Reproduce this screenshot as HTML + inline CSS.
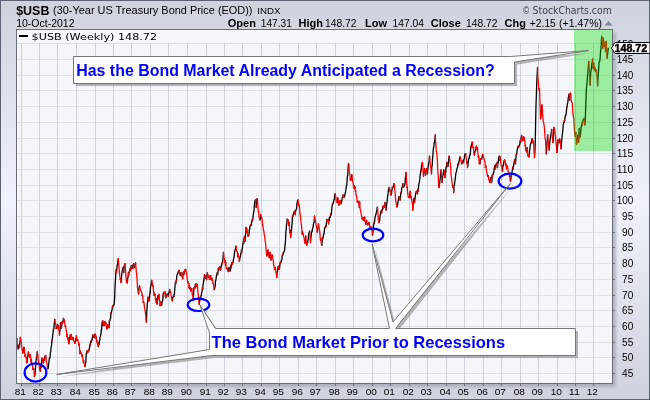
<!DOCTYPE html><html><head><meta charset="utf-8"><style>
html,body{margin:0;padding:0;}body{width:650px;height:400px;overflow:hidden;background:#d9dce4;}
svg{display:block;}
text{font-family:"Liberation Sans",Arial,sans-serif;}
</style></head><body>
<svg width="650" height="400" viewBox="0 0 650 400">
<defs>
<linearGradient id="bgv" x1="0" y1="0" x2="0" y2="1"><stop offset="0" stop-color="#cdd2dc"/><stop offset="0.5" stop-color="#f0f3fb"/><stop offset="1" stop-color="#cdd2dc"/></linearGradient>
<filter id="shadow" x="-5%" y="-5%" width="110%" height="110%"><feGaussianBlur stdDeviation="1.5"/></filter><filter id="sh2" x="-5%" y="-5%" width="110%" height="110%"><feGaussianBlur stdDeviation="0.5"/></filter>
<clipPath id="plot"><rect x="17" y="30" width="595" height="353"/></clipPath>
</defs>
<rect x="0" y="0" width="650" height="400" fill="url(#bgv)"/>
<rect x="0.5" y="0.5" width="649" height="399" fill="none" stroke="#5d6272" stroke-width="1"/>
<rect x="19" y="32" width="597" height="355" fill="#9da2ae" opacity="0.7" filter="url(#shadow)"/>
<rect x="16.5" y="29.5" width="596" height="354" fill="#f5f6fa"/>
<path d="M16 373.5H612M16 357.5H612M16 342.5H612M16 326.5H612M16 310.5H612M16 295.5H612M16 279.5H612M16 263.5H612M16 247.5H612M16 232.5H612M16 216.5H612M16 200.5H612M16 185.5H612M16 169.5H612M16 153.5H612M16 138.5H612M16 122.5H612M16 106.5H612M16 90.5H612M16 75.5H612M16 59.5H612M16 43.5H612" stroke="#dee0e7" stroke-width="1" fill="none"/>
<path d="M21.5 43V383M39.5 43V383M57.5 43V383M76.5 43V383M95.5 43V383M113.5 43V383M131.5 43V383M150.5 43V383M168.5 43V383M187.5 43V383M206.5 43V383M224.5 43V383M242.5 43V383M261.5 43V383M279.5 43V383M298.5 43V383M316.5 43V383M335.5 43V383M353.5 43V383M372.5 43V383M390.5 43V383M409.5 43V383M427.5 43V383M446.5 43V383M464.5 43V383M483.5 43V383M501.5 43V383M520.5 43V383M538.5 43V383M557.5 43V383M575.5 43V383M593.5 43V383" stroke="#cdd0d9" stroke-width="1" fill="none"/>
<g clip-path="url(#plot)" stroke-width="1.3" fill="none" stroke-linecap="round" stroke-linejoin="round">
<path d="M16.50 340.00L16.75 338.89M16.75 338.89L17.00 338.75M17.88 348.85L18.25 348.75M18.25 348.75L18.50 347.02M18.50 347.02L18.75 345.00M19.50 347.50L19.80 343.29M19.80 343.29L20.10 341.15M20.10 341.15L20.40 337.50M22.25 350.00L22.57 349.98M22.90 353.00L23.20 351.37M23.20 351.37L23.50 348.75M23.50 348.75L23.80 347.60M23.80 347.60L24.10 347.50M25.07 356.33L25.40 355.00M26.67 362.67L27.00 362.50M27.00 362.50L27.30 360.54M27.30 360.54L27.60 355.06M27.90 356.25L28.20 352.75M28.20 352.75L28.50 351.90M29.43 356.57L29.75 356.25M30.08 357.02L30.42 354.82M31.03 361.98L31.32 359.32M32.92 369.35L33.25 368.75M34.35 376.25L34.60 376.00M34.60 376.00L34.87 375.15M34.87 375.15L35.13 372.98M35.13 372.98L35.40 368.75M35.40 368.75L35.70 365.26M35.70 365.26L36.00 361.25M36.00 361.25L36.30 359.45M36.30 359.45L36.60 356.25M36.92 356.93L37.25 351.90M39.80 369.88L40.10 368.88M40.40 371.25L40.70 365.52M41.00 367.50L41.30 365.40M41.30 365.40L41.60 362.50M41.60 362.50L41.92 358.10M42.58 360.69L42.90 360.00M43.20 362.78L43.50 362.50M43.50 362.50L43.80 360.19M43.80 360.19L44.10 358.75M44.40 360.29L44.70 358.72M44.70 358.72L45.00 356.25M45.38 358.08L45.75 355.60M47.90 368.75L48.20 368.20M48.20 368.20L48.50 365.00M48.50 365.00L48.80 363.33M48.80 363.33L49.10 360.00M49.10 360.00L49.42 358.16M49.42 358.16L49.75 358.10M49.75 358.10L50.08 357.40M50.08 357.40L50.40 352.50M50.40 352.50L50.70 351.95M50.70 351.95L51.00 347.50M51.00 347.50L51.30 346.31M51.30 346.31L51.60 345.60M51.60 345.60L51.92 339.96M52.25 340.00L52.58 336.72M52.58 336.72L52.90 333.75M52.90 333.75L53.20 331.17M53.20 331.17L53.50 328.75M53.80 329.02L54.10 325.60M54.10 325.60L54.50 321.50M54.50 321.50L54.85 319.32M56.15 328.57L56.50 328.00M56.50 328.00L56.85 326.37M56.85 326.37L57.20 325.50M57.20 325.50L57.47 324.75M57.73 327.82L58.00 326.00M58.00 326.00L58.27 325.54M59.50 335.00L59.75 331.03M59.75 331.03L60.00 331.00M60.00 331.00L60.25 325.50M60.25 325.50L60.50 323.00M60.50 323.00L60.85 322.60M61.20 328.00L61.50 327.76M61.50 327.76L61.80 325.00M61.80 325.00L62.20 322.00M62.50 323.28L62.80 323.00M62.80 323.00L63.15 320.24M63.15 320.24L63.50 318.50M63.85 320.74L64.20 320.00M65.27 326.52L65.53 326.05M66.85 336.73L67.20 335.00M67.73 339.54L68.00 339.00M68.00 339.00L68.25 338.15M68.85 343.59L69.20 340.00M69.20 340.00L69.47 338.89M69.47 338.89L69.73 337.04M69.73 337.04L70.00 337.00M70.00 337.00L70.27 335.11M70.53 338.88L70.80 335.00M70.80 335.00L71.15 334.51M72.20 339.50L72.47 339.26M72.47 339.26L72.73 339.13M72.73 339.13L73.00 338.00M73.00 338.00L73.27 337.62M74.83 343.39L75.17 341.94M75.17 341.94L75.50 341.50M75.50 341.50L75.85 338.41M76.20 340.00L76.47 335.59M77.53 340.16L77.80 340.00M78.85 345.09L79.20 344.00M79.88 353.67L80.16 352.65M80.16 352.65L80.44 351.22M82.12 356.23L82.40 355.10M83.30 362.10L83.60 360.43M85.00 366.50L85.30 363.82M85.30 363.82L85.60 362.76M85.60 362.76L85.90 361.25M85.90 361.25L86.25 354.18M86.25 354.18L86.60 352.50M86.60 352.50L86.88 351.06M87.16 352.51L87.44 352.23M87.72 352.53L88.00 351.60M88.00 351.60L88.28 350.09M88.56 351.32L88.84 350.17M88.84 350.17L89.12 349.94M89.12 349.94L89.40 348.10M89.40 348.10L89.70 346.35M89.70 346.35L90.00 344.27M90.30 345.12L90.60 342.90M90.60 342.90L90.92 341.24M91.25 342.11L91.58 339.62M91.90 340.25L92.23 338.35M92.23 338.35L92.57 337.28M92.57 337.28L92.90 335.00M93.20 336.79L93.50 336.56M93.50 336.56L93.80 335.84M94.10 337.60L94.40 336.44M94.40 336.44L94.70 334.75M94.70 334.75L95.00 334.10M95.31 336.32L95.62 335.19M95.94 338.07L96.25 336.80M96.60 341.62L96.95 340.80M97.60 344.00L97.90 342.65M98.20 346.48L98.50 345.20M98.50 345.20L98.83 343.62M99.17 344.45L99.50 341.00M99.50 341.00L99.77 340.46M99.77 340.46L100.03 337.33M100.30 337.50L100.62 334.86M100.62 334.86L100.93 334.65M100.93 334.65L101.25 330.00M101.25 330.00L101.56 329.96M101.56 329.96L101.88 325.65M101.88 325.65L102.19 322.19M102.19 322.19L102.50 321.25M102.50 321.25L102.81 320.80M103.12 325.16L103.44 322.95M104.06 325.76L104.38 322.51M104.38 322.51L104.69 321.70M105.00 325.00L105.38 324.03M105.38 324.03L105.75 322.50M107.00 328.75L107.29 326.98M107.29 326.98L107.58 326.03M107.58 326.03L107.88 324.79M108.46 326.16L108.75 325.00M109.06 327.70L109.38 320.64M109.69 320.74L110.00 320.00M110.00 320.00L110.31 318.50M110.31 318.50L110.62 318.05M110.62 318.05L110.94 312.58M111.25 313.75L111.56 311.13M111.56 311.13L111.88 310.75M111.88 310.75L112.19 308.72M112.19 308.72L112.50 306.25M112.81 306.92L113.12 305.30M113.12 305.30L113.44 305.07M113.44 305.07L113.75 305.00M113.75 305.00L114.12 304.77M114.12 304.77L114.50 300.00M114.50 300.00L114.75 295.97M114.75 295.97L115.00 287.50M115.00 287.50L115.38 281.58M115.38 281.58L115.75 275.00M115.75 275.00L116.08 270.00M116.42 272.39L116.75 270.00M116.75 270.00L117.12 265.42M117.12 265.42L117.50 265.00M117.50 265.00L117.88 260.91M117.88 260.91L118.25 258.75M120.33 279.34L120.67 278.59M121.00 282.50L121.33 278.83M121.33 278.83L121.67 275.36M121.67 275.36L122.00 272.50M122.00 272.50L122.33 270.12M122.33 270.12L122.67 269.17M122.67 269.17L123.00 267.50M123.75 272.50L124.06 268.26M124.06 268.26L124.38 265.09M124.69 265.62L125.00 263.75M126.75 282.50L127.06 280.25M127.38 282.79L127.69 277.28M128.00 277.50L128.33 272.98M128.67 275.57L129.00 272.50M129.00 272.50L129.33 271.37M129.67 271.73L130.00 268.75M130.28 270.27L130.55 267.68M130.82 268.96L131.10 265.75M131.10 265.75L131.39 265.61M131.68 268.01L131.96 267.69M132.54 268.05L132.82 266.53M132.82 266.53L133.11 264.55M133.40 265.30L133.68 263.61M133.95 267.92L134.22 266.92M134.22 266.92L134.50 266.90M134.50 266.90L134.78 266.12M134.78 266.12L135.05 264.69M135.05 264.69L135.32 263.97M135.32 263.97L135.60 263.00M138.60 293.90L138.90 289.84M138.90 289.84L139.20 287.30M139.20 287.30L139.50 286.00M142.11 295.38L142.40 295.00M143.22 302.47L143.50 301.75M146.40 322.00L146.75 311.69M146.75 311.69L147.10 308.50M147.10 308.50L147.40 302.56M147.40 302.56L147.70 301.38M147.70 301.38L148.00 297.25M148.82 301.02L149.10 300.60M149.10 300.60L149.45 298.24M149.45 298.24L149.80 292.75M150.10 293.28L150.40 288.89M150.40 288.89L150.70 286.00M150.70 286.00L151.00 285.19M151.00 285.19L151.30 282.51M151.30 282.51L151.60 280.40M152.20 284.19L152.50 283.75M152.78 286.14L153.05 285.71M154.18 295.24L154.46 293.24M154.75 295.00L155.04 294.31M155.61 300.36L155.90 298.40M156.18 302.70L156.45 301.50M156.45 301.50L156.72 300.52M157.00 304.00L157.28 303.13M157.28 303.13L157.55 300.18M157.55 300.18L157.82 295.95M158.68 298.58L158.96 294.50M160.11 305.60L160.40 301.75M160.68 304.03L160.95 302.16M161.50 305.10L161.78 304.59M161.78 304.59L162.05 302.06M162.05 302.06L162.32 301.40M162.32 301.40L162.60 300.60M162.60 300.60L162.89 298.02M162.89 298.02L163.18 293.82M163.46 297.08L163.75 293.90M163.75 293.90L164.04 292.23M164.90 292.75L165.18 292.06M165.72 297.62L166.00 297.25M166.00 297.25L166.28 295.49M166.55 296.01L166.82 294.61M166.82 294.61L167.10 293.90M168.30 296.10L168.58 293.51M168.58 293.51L168.85 292.92M168.85 292.92L169.12 292.38M169.12 292.38L169.40 290.50M169.40 290.50L169.70 289.32M170.00 292.52L170.30 291.50M171.58 298.63L171.85 298.27M172.40 300.80L172.70 297.31M172.70 297.31L173.00 297.23M173.00 297.23L173.30 296.98M173.30 296.98L173.60 295.20M174.15 296.11L174.42 293.50M174.42 293.50L174.70 290.00M174.70 290.00L175.00 286.51M175.00 286.51L175.30 282.99M175.60 284.00L175.89 283.16M175.89 283.16L176.18 280.36M176.46 280.65L176.75 276.20M176.75 276.20L177.04 274.85M177.04 274.85L177.32 274.17M177.32 274.17L177.61 273.95M177.61 273.95L177.90 272.75M177.90 272.75L178.18 272.01M178.18 272.01L178.45 271.25M178.72 271.50L179.00 270.50M179.55 273.67L179.82 273.35M180.10 275.00L180.39 274.90M180.68 275.62L180.96 272.50M182.68 278.70L182.95 275.17M182.95 275.17L183.22 272.44M183.50 272.75L183.78 271.99M184.05 274.11L184.32 272.93M184.32 272.93L184.60 270.50M184.89 271.49L185.18 269.54M185.46 270.35L185.75 269.40M187.60 281.75L187.90 281.51M188.50 284.00L188.78 283.59M189.05 287.75L189.32 285.61M189.88 288.82L190.15 287.51M190.70 290.75L190.97 290.37M191.25 290.77L191.53 289.05M191.53 289.05L191.80 288.50M193.20 299.80L193.47 295.77M193.47 295.77L193.75 290.47M193.75 290.47L194.03 287.66M194.03 287.66L194.30 287.40M194.90 288.38L195.20 285.20M195.20 285.20L195.47 284.13M195.75 284.59L196.03 284.46M196.03 284.46L196.30 284.00M196.60 286.50L196.90 285.96M196.90 285.96L197.20 284.29M199.25 304.30L199.57 301.14M199.57 301.14L199.88 300.12M199.88 300.12L200.20 297.60M200.50 298.34L200.80 297.17M200.80 297.17L201.10 295.30M201.10 295.30L201.38 295.23M201.38 295.23L201.65 292.39M201.65 292.39L201.92 292.11M201.92 292.11L202.20 289.70M202.20 289.70L202.47 287.45M202.75 289.12L203.03 284.21M203.03 284.21L203.30 284.00M203.30 284.00L203.60 281.07M203.60 281.07L203.90 280.36M203.90 280.36L204.20 277.25M204.20 277.25L204.47 274.74M205.03 276.95L205.30 276.20M205.30 276.20L205.60 276.03M205.90 278.40L206.20 277.39M206.50 279.50L206.80 278.41M206.80 278.41L207.10 274.04M207.10 274.04L207.40 272.75M208.54 277.43L208.82 276.08M208.82 276.08L209.11 276.04M209.40 279.50L209.67 278.49M209.93 278.88L210.20 277.50M210.20 277.50L210.46 276.05M210.46 276.05L210.72 275.61M210.99 278.77L211.25 278.75M211.56 279.87L211.88 278.09M213.12 283.65L213.44 283.47M214.12 289.54L214.50 288.75M214.50 288.75L214.83 287.34M214.83 287.34L215.17 286.53M215.17 286.53L215.50 281.25M215.50 281.25L215.81 280.31M215.81 280.31L216.12 278.04M216.12 278.04L216.44 275.75M216.44 275.75L216.75 275.00M216.75 275.00L217.06 272.89M217.06 272.89L217.38 272.85M217.69 274.61L218.00 272.50M218.00 272.50L218.31 268.57M218.62 268.79L218.94 268.11M218.94 268.11L219.25 267.50M219.56 269.65L219.88 266.82M220.50 270.00L220.83 268.69M220.83 268.69L221.17 266.97M221.17 266.97L221.50 265.00M221.50 265.00L221.83 264.95M221.83 264.95L222.17 262.43M222.50 262.50L222.81 260.53M222.81 260.53L223.12 256.25M223.12 256.25L223.44 252.36M224.83 262.17L225.17 260.55M225.50 265.00L225.81 262.65M226.75 268.75L227.06 268.06M228.33 271.54L228.67 268.67M228.67 268.67L229.00 267.50M230.00 271.25L230.33 270.52M230.33 270.52L230.67 267.44M230.67 267.44L231.00 265.00M231.33 267.68L231.67 262.69M232.33 264.17L232.67 262.34M233.00 262.50L233.33 260.14M233.33 260.14L233.67 258.21M233.67 258.21L234.00 257.50M234.00 257.50L234.33 254.58M234.33 254.58L234.67 251.77M234.67 251.77L235.00 250.00M235.00 250.00L235.33 249.54M235.33 249.54L235.67 247.28M235.67 247.28L236.00 246.25M237.67 256.79L238.00 253.75M239.50 261.25L239.83 258.29M239.83 258.29L240.17 257.30M240.17 257.30L240.50 256.25M240.50 256.25L240.81 253.19M240.81 253.19L241.12 253.18M241.12 253.18L241.44 250.16M241.75 252.50L242.06 249.54M242.06 249.54L242.38 247.79M242.38 247.79L242.69 244.88M242.69 244.88L243.00 243.75M243.00 243.75L243.33 241.33M243.67 243.51L244.00 238.75M244.00 238.75L244.33 237.00M245.00 241.25L245.33 235.43M245.33 235.43L245.67 234.29M245.67 234.29L246.00 227.50M246.33 232.45L246.67 228.34M247.00 231.25L247.33 231.12M248.00 236.25L248.33 234.93M248.67 235.47L249.00 233.75M249.00 233.75L249.33 229.73M249.33 229.73L249.67 229.22M249.67 229.22L250.00 226.25M250.00 226.25L250.33 225.85M250.33 225.85L250.67 224.71M251.33 225.34L251.67 221.05M252.00 221.25L252.33 219.11M252.67 219.89L253.00 217.50M253.00 217.50L253.33 214.52M253.33 214.52L253.67 211.72M253.67 211.72L254.00 211.25M254.00 211.25L254.38 205.22M254.38 205.22L254.75 201.25M254.75 201.25L255.12 200.40M255.12 200.40L255.50 200.00M256.25 207.50L256.62 203.57M256.62 203.57L257.00 198.75M258.33 211.58L258.67 211.51M260.00 220.00L260.33 219.09M260.33 219.09L260.67 214.50M261.33 217.84L261.67 217.59M266.67 255.74L267.00 255.00M267.33 255.63L267.67 253.22M267.67 253.22L268.00 250.00M268.33 253.88L268.67 253.27M269.33 257.62L269.67 253.83M269.67 253.83L270.00 252.50M271.00 260.00L271.33 256.50M271.33 256.50L271.67 256.41M271.67 256.41L272.00 255.00M272.33 256.66L272.67 256.14M274.67 269.57L275.00 268.75M275.00 268.75L275.33 267.76M276.75 277.50L277.12 271.88M277.12 271.88L277.50 271.25M277.50 271.25L277.83 268.97M277.83 268.97L278.17 266.38M278.17 266.38L278.50 266.25M278.83 269.20L279.17 268.26M279.50 268.75L279.83 265.96M279.83 265.96L280.17 262.31M280.83 262.53L281.17 261.59M281.17 261.59L281.50 260.00M281.50 260.00L281.83 259.81M281.83 259.81L282.17 255.85M282.17 255.85L282.50 255.00M282.50 255.00L282.83 254.01M283.17 254.66L283.50 252.50M283.50 252.50L283.83 251.58M283.83 251.58L284.17 251.54M284.17 251.54L284.50 251.25M284.50 251.25L284.77 248.07M284.77 248.07L285.05 245.39M285.05 245.39L285.33 242.93M285.33 242.93L285.60 238.75M285.60 238.75L285.90 231.30M285.90 231.30L286.20 229.41M286.20 229.41L286.50 225.00M286.50 225.00L286.83 223.49M286.83 223.49L287.17 219.05M287.50 220.00L287.83 219.72M288.80 225.44L289.10 222.50M289.70 232.34L290.00 230.10M290.60 237.50L290.93 234.43M290.93 234.43L291.25 230.96M291.25 230.96L291.57 229.34M291.57 229.34L291.90 225.00M291.90 225.00L292.20 222.19M292.20 222.19L292.50 215.61M292.80 216.51L293.10 215.00M293.10 215.00L293.43 213.83M293.43 213.83L293.75 213.67M293.75 213.67L294.07 211.91M294.40 212.50L294.70 211.91M294.70 211.91L295.00 211.03M295.30 214.61L295.60 211.00M295.60 211.00L295.93 210.07M295.93 210.07L296.25 209.19M296.25 209.19L296.57 209.19M296.57 209.19L296.90 203.75M297.20 203.98L297.50 200.49M297.50 200.49L297.80 200.16M297.80 200.16L298.10 200.00M298.75 205.67L299.07 204.78M302.17 234.01L302.45 231.91M305.00 243.00L305.38 240.33M305.38 240.33L305.75 236.25M306.50 245.00L306.83 244.95M306.83 244.95L307.17 242.83M307.50 244.00L307.83 240.04M307.83 240.04L308.17 239.98M308.17 239.98L308.50 236.25M308.50 236.25L308.83 233.15M308.83 233.15L309.17 232.94M309.17 232.94L309.50 231.25M310.50 242.50L310.83 238.25M310.83 238.25L311.17 235.92M311.17 235.92L311.50 231.25M311.83 231.73L312.17 231.56M312.17 231.56L312.50 228.75M312.50 228.75L312.83 228.04M312.83 228.04L313.17 226.10M313.17 226.10L313.50 223.75M313.50 223.75L313.83 222.60M313.83 222.60L314.17 221.86M314.17 221.86L314.50 216.25M317.17 232.02L317.50 231.25M317.50 231.25L317.83 227.91M317.83 227.91L318.17 227.56M318.17 227.56L318.50 223.75M320.50 240.00L320.83 238.66M321.83 245.17L322.17 240.72M322.17 240.72L322.50 237.50M322.83 238.49L323.17 237.79M323.17 237.79L323.50 235.00M323.50 235.00L323.83 233.80M323.83 233.80L324.17 233.49M324.17 233.49L324.50 228.75M324.50 228.75L324.83 227.29M325.17 227.75L325.50 227.50M325.50 227.50L325.83 225.45M326.17 226.29L326.50 222.50M326.50 222.50L326.83 219.32M327.17 221.00L327.50 220.00M327.83 220.24L328.17 219.37M328.50 223.75L328.83 221.55M328.83 221.55L329.17 220.84M329.17 220.84L329.50 217.50M329.50 217.50L329.83 217.46M329.83 217.46L330.17 217.29M330.17 217.29L330.50 215.00M330.50 215.00L330.75 213.94M331.00 215.00L331.33 213.98M331.33 213.98L331.67 209.95M331.67 209.95L332.00 207.50M332.00 207.50L332.33 204.74M332.33 204.74L332.67 203.20M333.00 203.75L333.33 203.03M333.33 203.03L333.67 200.72M333.67 200.72L334.00 200.00M334.00 200.00L334.33 199.35M334.33 199.35L334.67 194.45M334.67 194.45L335.00 193.75M337.00 202.50L337.33 201.98M337.33 201.98L337.67 197.60M339.00 205.00L339.33 201.70M339.67 203.71L340.00 201.25M340.00 201.25L340.33 200.70M341.00 203.75L341.33 202.57M341.33 202.57L341.67 201.44M341.67 201.44L342.00 200.00M342.00 200.00L342.33 197.06M342.67 197.17L343.00 195.00M344.00 197.50L344.33 196.75M344.33 196.75L344.67 195.80M344.67 195.80L345.00 193.75M345.00 193.75L345.33 192.80M345.33 192.80L345.67 191.28M345.67 191.28L346.00 188.75M346.00 188.75L346.33 185.87M346.33 185.87L346.67 185.74M346.67 185.74L347.00 182.50M347.00 182.50L347.38 176.18M347.38 176.18L347.75 175.00M347.75 175.00L348.12 167.93M348.12 167.93L348.50 163.75M350.33 180.05L350.67 178.45M351.00 180.00L351.33 179.69M351.33 179.69L351.67 174.61M353.67 187.98L354.00 187.50M354.00 187.50L354.33 185.70M354.67 188.55L355.00 187.00M355.33 191.07L355.67 190.89M357.33 202.17L357.67 200.97M358.00 202.00L358.33 201.42M359.33 207.31L359.67 202.00M362.00 218.75L362.33 217.29M363.33 220.19L363.67 217.84M364.33 220.78L364.67 217.07M365.67 224.13L366.00 222.00M366.00 222.00L366.33 220.89M366.33 220.89L366.67 220.39M367.33 224.64L367.67 223.69M368.00 224.50L368.33 223.83M368.67 223.91L369.00 222.50M370.00 228.00L370.33 227.71M370.67 229.05L371.00 226.90M372.50 235.00L372.88 232.30M372.88 232.30L373.25 228.75M373.25 228.75L373.62 225.35M373.62 225.35L374.00 222.50M374.33 223.09L374.67 220.65M374.67 220.65L375.00 217.50M375.00 217.50L375.33 216.33M375.33 216.33L375.67 214.75M375.67 214.75L376.00 213.75M376.33 213.79L376.67 210.69M376.67 210.69L377.00 210.00M377.00 210.00L377.25 207.17M379.00 222.50L379.33 222.37M379.33 222.37L379.67 220.31M379.67 220.31L380.00 216.25M380.00 216.25L380.33 214.73M380.33 214.73L380.67 212.59M380.67 212.59L381.00 211.25M381.67 212.85L382.00 210.00M382.33 210.14L382.67 209.43M382.67 209.43L383.00 206.25M383.33 207.90L383.67 206.94M384.00 207.50L384.33 205.53M384.67 206.58L385.00 202.50M386.00 210.00L386.33 207.43M386.33 207.43L386.67 204.27M386.67 204.27L387.00 202.50M387.00 202.50L387.33 199.35M387.33 199.35L387.67 195.54M387.67 195.54L388.00 195.00M388.00 195.00L388.33 190.26M388.33 190.26L388.67 189.65M388.67 189.65L389.00 187.50M389.67 190.81L390.00 190.00M391.00 195.00L391.33 194.22M391.33 194.22L391.67 192.79M391.67 192.79L392.00 190.00M392.00 190.00L392.33 187.07M393.33 187.50L393.67 186.28M393.67 186.28L394.00 183.75M397.00 206.90L397.33 204.94M397.33 204.94L397.67 204.78M397.67 204.78L398.00 201.25M398.00 201.25L398.33 200.59M398.33 200.59L398.67 197.02M398.67 197.02L399.00 196.90M399.33 199.23L399.67 197.17M400.00 200.00L400.33 198.51M400.33 198.51L400.67 193.95M400.67 193.95L401.00 192.50M401.33 193.00L401.67 188.52M401.67 188.52L402.00 187.50M402.00 187.50L402.33 186.65M402.33 186.65L402.67 185.38M402.67 185.38L403.00 183.75M403.67 187.03L404.00 186.25M404.00 186.25L404.33 186.03M404.33 186.03L404.67 184.83M404.67 184.83L405.00 183.75M405.00 183.75L405.33 178.37M405.33 178.37L405.67 176.21M405.67 176.21L406.00 172.50M407.00 187.50L407.33 187.14M409.33 197.56L409.67 194.59M409.67 194.59L410.00 192.50M410.00 192.50L410.33 191.37M410.67 197.31L411.00 196.25M412.75 210.00L413.12 204.17M413.12 204.17L413.50 200.00M413.50 200.00L413.83 198.36M414.50 202.50L414.83 199.71M414.83 199.71L415.17 197.19M415.17 197.19L415.50 195.00M415.50 195.00L415.83 193.16M415.83 193.16L416.17 191.54M416.17 191.54L416.50 191.25M416.83 192.42L417.17 192.00M417.50 193.75L417.83 189.27M418.17 191.20L418.50 187.50M418.50 187.50L418.83 183.88M418.83 183.88L419.17 182.96M419.17 182.96L419.50 181.25M419.50 181.25L419.83 178.26M419.83 178.26L420.17 174.90M420.17 174.90L420.50 173.75M420.50 173.75L420.83 170.12M421.17 170.77L421.50 166.25M421.50 166.25L421.83 165.61M421.83 165.61L422.17 162.78M422.17 162.78L422.50 162.50M423.50 176.25L423.83 173.59M423.83 173.59L424.17 169.76M424.17 169.76L424.50 168.75M425.50 175.00L425.83 174.10M425.83 174.10L426.17 169.27M426.17 169.27L426.50 168.75M427.50 173.75L427.83 169.58M427.83 169.58L428.17 166.81M428.17 166.81L428.50 163.75M428.50 163.75L428.83 162.65M428.83 162.65L429.17 160.56M429.17 160.56L429.50 156.25M431.50 173.75L431.83 166.42M431.83 166.42L432.17 165.87M432.17 165.87L432.50 160.00M432.50 160.00L432.83 155.74M432.83 155.74L433.17 150.78M433.17 150.78L433.50 147.50M433.50 147.50L433.83 147.22M433.83 147.22L434.17 142.82M434.17 142.82L434.50 142.50M434.50 142.50L434.88 139.58M434.88 139.58L435.25 135.00M439.00 187.50L439.33 185.22M439.33 185.22L439.67 183.26M439.67 183.26L440.00 180.00M440.00 180.00L440.33 177.56M440.33 177.56L440.67 173.71M440.67 173.71L441.00 170.00M442.00 182.50L442.33 179.57M442.33 179.57L442.67 176.95M442.67 176.95L443.00 175.00M443.00 175.00L443.33 172.51M443.33 172.51L443.67 170.66M443.67 170.66L444.00 170.00M444.33 174.10L444.67 171.72M445.00 177.50L445.33 173.59M445.33 173.59L445.67 173.03M445.67 173.03L446.00 167.50M446.00 167.50L446.33 166.65M446.33 166.65L446.67 164.82M446.67 164.82L447.00 162.50M447.33 166.58L447.67 165.18M448.00 166.25L448.33 162.53M448.33 162.53L448.67 160.86M448.67 160.86L449.00 156.25M453.00 187.50L453.38 186.43M453.75 192.50L454.12 185.67M454.12 185.67L454.50 185.00M454.50 185.00L454.83 181.56M454.83 181.56L455.17 179.19M455.17 179.19L455.50 176.25M455.50 176.25L455.83 173.69M455.83 173.69L456.17 172.38M456.17 172.38L456.50 171.25M456.50 171.25L456.83 169.02M456.83 169.02L457.17 168.09M457.17 168.09L457.50 167.50M457.50 167.50L457.83 163.83M458.17 165.11L458.50 165.00M458.50 165.00L458.83 161.32M459.17 161.63L459.50 158.75M459.50 158.75L459.83 156.82M460.17 157.65L460.50 157.50M461.50 163.75L461.83 162.87M462.17 163.58L462.50 161.25M462.50 161.25L462.83 160.48M463.50 162.50L463.83 159.83M463.83 159.83L464.17 159.01M464.17 159.01L464.50 156.25M464.50 156.25L464.83 154.59M464.83 154.59L465.17 153.75M465.50 153.75L465.83 153.69M466.83 163.47L467.17 161.59M467.50 167.50L467.83 165.54M467.83 165.54L468.17 163.16M468.17 163.16L468.50 160.00M468.50 160.00L468.83 158.36M468.83 158.36L469.17 158.34M469.17 158.34L469.50 156.25M469.50 156.25L469.83 154.63M469.83 154.63L470.17 154.57M470.17 154.57L470.50 151.25M470.50 151.25L470.83 146.08M471.17 147.44L471.50 145.00M471.50 145.00L471.83 143.96M471.83 143.96L472.17 142.05M473.17 147.79L473.50 147.50M474.50 155.00L474.83 151.72M474.83 151.72L475.17 151.34M475.17 151.34L475.50 150.00M475.50 150.00L475.77 149.49M475.77 149.49L476.03 147.74M476.03 147.74L476.30 146.25M476.90 149.53L477.20 148.50M477.20 148.50L477.47 147.89M478.33 156.86L478.67 156.13M479.33 163.59L479.67 160.37M480.00 163.75L480.33 158.53M480.67 159.68L481.00 158.75M481.00 158.75L481.33 158.54M481.67 159.16L482.00 157.50M482.00 157.50L482.33 156.23M482.33 156.23L482.67 154.34M485.33 167.36L485.67 166.94M485.67 166.94L486.00 166.25M487.67 176.27L488.00 176.25M488.00 176.25L488.33 175.59M489.33 181.04L489.67 179.88M490.00 182.50L490.38 179.18M490.38 179.18L490.75 177.50M491.50 182.50L491.83 181.75M491.83 181.75L492.17 175.26M492.50 176.25L492.83 175.17M492.83 175.17L493.17 174.02M493.17 174.02L493.50 172.50M493.50 172.50L493.83 172.44M493.83 172.44L494.17 167.95M494.17 167.95L494.50 167.50M494.50 167.50L494.83 165.70M495.50 168.75L495.83 165.83M495.83 165.83L496.17 163.98M496.17 163.98L496.50 163.75M496.83 164.06L497.17 162.49M497.50 167.50L497.83 163.47M497.83 163.47L498.17 162.41M498.17 162.41L498.50 160.00M498.50 160.00L498.83 157.33M498.83 157.33L499.17 156.17M499.83 160.45L500.17 156.84M502.50 171.25L502.83 165.51M503.17 166.08L503.50 163.75M503.50 163.75L503.83 161.21M504.17 161.78L504.50 160.00M505.50 165.00L505.83 163.75M506.50 168.75L506.83 166.86M506.83 166.86L507.17 166.10M509.50 176.25L509.83 176.14M510.50 181.25L510.83 179.39M510.83 179.39L511.17 174.91M511.17 174.91L511.50 173.75M511.50 173.75L511.83 173.43M511.83 173.43L512.17 171.12M512.17 171.12L512.50 168.75M512.50 168.75L512.83 166.99M513.17 169.06L513.50 166.25M513.50 166.25L513.83 164.20M513.83 164.20L514.17 162.20M514.17 162.20L514.50 160.00M514.50 160.00L514.83 159.36M515.50 163.75L515.83 159.16M515.83 159.16L516.17 154.72M516.50 155.00L516.83 152.61M516.83 152.61L517.17 150.19M517.17 150.19L517.50 148.75M517.50 148.75L517.83 146.29M518.17 147.53L518.50 146.25M518.83 146.88L519.17 145.56M519.17 145.56L519.50 145.00M519.50 145.00L519.83 143.94M519.83 143.94L520.17 140.46M520.17 140.46L520.50 139.70M520.77 141.71L521.05 138.12M521.05 138.12L521.33 136.96M521.33 136.96L521.60 135.50M522.98 140.66L523.25 138.94M523.52 139.25L523.80 137.00M525.17 145.86L525.45 145.49M526.00 150.70L526.27 149.45M526.55 151.76L526.83 147.92M526.83 147.92L527.10 147.90M527.10 147.90L527.38 147.74M528.20 156.20L528.48 155.14M528.48 155.14L528.75 155.01M529.02 156.96L529.30 155.00M529.30 155.00L529.60 150.52M529.60 150.52L529.90 148.83M529.90 148.83L530.20 146.00M530.20 146.00L530.47 144.43M530.47 144.43L530.73 143.97M530.73 143.97L531.00 142.50M531.33 143.00L531.67 139.95M531.67 139.95L532.00 138.75M532.67 142.44L533.00 141.25M534.50 157.50L534.88 151.37M534.88 151.37L535.25 142.50M535.25 142.50L535.62 122.21M535.62 122.21L536.00 105.00M536.00 105.00L536.38 94.82M536.38 94.82L536.75 82.50M536.75 82.50L537.12 74.91M537.12 74.91L537.50 67.50M539.25 90.20L539.50 88.75M540.50 118.75L540.88 116.79M540.88 116.79L541.25 113.75M541.25 113.75L541.62 107.36M541.62 107.36L542.00 105.00M546.25 153.75L546.62 149.78M546.62 149.78L547.00 142.50M547.00 142.50L547.38 139.28M547.38 139.28L547.75 135.00M549.25 150.00L549.62 143.57M549.62 143.57L550.00 140.00M550.00 140.00L550.33 138.55M550.33 138.55L550.67 136.16M550.67 136.16L551.00 133.75M551.00 133.75L551.33 132.67M551.33 132.67L551.67 129.41M553.00 142.50L553.33 137.76M553.33 137.76L553.67 133.38M553.67 133.38L554.00 127.50M557.00 152.50L557.33 149.06M557.33 149.06L557.67 144.44M557.67 144.44L558.00 140.00M559.00 142.50L559.33 140.60M559.33 140.60L559.67 138.83M561.00 148.75L561.33 146.54M561.33 146.54L561.67 140.30M561.67 140.30L562.00 137.50M562.00 137.50L562.33 133.90M562.33 133.90L562.67 132.57M562.67 132.57L563.00 127.50M563.00 127.50L563.33 124.06M563.33 124.06L563.67 122.70M563.67 122.70L564.00 122.50M564.00 122.50L564.33 120.36M564.67 120.55L565.00 117.50M565.00 117.50L565.33 116.09M565.33 116.09L565.67 115.33M565.67 115.33L566.00 115.00M566.00 115.00L566.33 112.80M566.33 112.80L566.67 107.27M567.00 107.50L567.38 103.53M567.38 103.53L567.75 103.00M567.75 103.00L568.03 100.06M568.03 100.06L568.32 97.66M568.32 97.66L568.60 96.75M568.60 96.75L568.88 94.52M568.88 94.52L569.15 94.10M569.50 100.25L569.75 99.00M569.75 99.00L570.00 95.90M570.00 95.90L570.27 93.66M570.27 93.66L570.55 93.25M575.30 136.20L575.55 135.94M575.55 135.94L575.80 132.65M576.50 144.00L576.85 142.55M576.85 142.55L577.20 138.80M577.20 138.80L577.55 137.95M577.55 137.95L577.90 135.30M578.60 142.30L578.95 133.91M578.95 133.91L579.30 128.30M580.00 137.00L580.35 136.02M580.35 136.02L580.70 131.80M580.70 131.80L581.05 127.09M581.05 127.09L581.40 126.50M581.40 126.50L581.75 125.26M581.75 125.26L582.10 123.00M582.45 124.81L582.80 121.30M582.80 121.30L583.15 119.96M583.15 119.96L583.50 119.50M583.50 119.50L583.85 118.71M584.90 124.80L585.25 118.85M585.25 118.85L585.60 110.75M585.60 110.75L585.85 103.27M585.85 103.27L586.10 98.50M586.10 98.50L586.40 89.26M586.40 89.26L586.70 85.00M586.70 85.00L587.05 82.98M587.05 82.98L587.40 78.30M587.40 78.30L587.75 74.23M587.75 74.23L588.10 69.90M588.10 69.90L588.42 65.20M588.42 65.20L588.75 61.50M590.10 85.00L590.42 77.19M590.42 77.19L590.75 71.50M590.75 71.50L591.08 70.94M591.08 70.94L591.40 68.20M591.40 68.20L591.75 63.58M591.75 63.58L592.10 63.20M592.10 63.20L592.35 61.00M592.35 61.00L592.60 59.00M593.10 68.20L593.45 63.86M593.45 63.86L593.80 63.20M594.40 69.90L594.75 67.43M595.80 71.50L596.15 70.13M597.60 85.80L597.85 80.07M597.85 80.07L598.10 74.90M598.10 74.90L598.45 72.08M598.45 72.08L598.80 66.50M598.80 66.50L599.15 62.32M599.15 62.32L599.50 61.50M599.50 61.50L599.80 61.16M599.80 61.16L600.10 58.20M600.10 58.20L600.45 52.66M600.45 52.66L600.80 49.80M600.80 49.80L601.05 46.49M601.05 46.49L601.30 44.80M601.30 44.80L601.60 36.40M602.70 48.10L602.95 44.68M602.95 44.68L603.20 38.10M604.50 46.40L604.75 42.96M605.50 51.50L605.85 48.70M605.85 48.70L606.20 41.40M607.20 58.20L607.45 54.84M607.45 54.84L607.70 53.20M607.70 53.20L607.95 50.75M607.95 50.75L608.20 48.10" stroke="#000"/>
<path d="M17.00 338.75L17.25 344.52M17.25 344.52L17.50 347.50M17.50 347.50L17.88 348.85M18.75 345.00L19.12 345.02M19.12 345.02L19.50 347.50M20.40 337.50L20.70 339.62M20.70 339.62L21.00 341.25M21.00 341.25L21.30 342.67M21.30 342.67L21.60 345.00M21.60 345.00L21.93 346.96M21.93 346.96L22.25 350.00M22.57 349.98L22.90 353.00M24.10 347.50L24.43 348.70M24.43 348.70L24.75 353.75M24.75 353.75L25.07 356.33M25.40 355.00L25.70 357.43M25.70 357.43L26.00 357.50M26.00 357.50L26.33 358.62M26.33 358.62L26.67 362.67M27.60 355.06L27.90 356.25M28.50 351.90L28.80 354.01M28.80 354.01L29.10 355.00M29.10 355.00L29.43 356.57M29.75 356.25L30.08 357.02M30.42 354.82L30.75 358.75M30.75 358.75L31.03 361.98M31.32 359.32L31.60 362.50M31.60 362.50L31.93 364.36M31.93 364.36L32.25 365.00M32.25 365.00L32.58 365.63M32.58 365.63L32.92 369.35M33.25 368.75L33.53 368.75M33.53 368.75L33.82 368.89M33.82 368.89L34.10 372.50M34.10 372.50L34.35 376.25M36.60 356.25L36.92 356.93M37.25 351.90L37.58 353.42M37.58 353.42L37.90 355.00M37.90 355.00L38.20 360.53M38.20 360.53L38.50 361.25M38.50 361.25L38.83 363.65M38.83 363.65L39.17 365.39M39.17 365.39L39.50 368.75M39.50 368.75L39.80 369.88M40.10 368.88L40.40 371.25M40.70 365.52L41.00 367.50M41.92 358.10L42.25 358.75M42.25 358.75L42.58 360.69M42.90 360.00L43.20 362.78M44.10 358.75L44.40 360.29M45.00 356.25L45.38 358.08M45.75 355.60L46.00 357.98M46.00 357.98L46.25 360.00M46.25 360.00L46.62 362.73M46.62 362.73L47.00 363.75M47.00 363.75L47.30 366.18M47.30 366.18L47.60 368.39M47.60 368.39L47.90 368.75M51.92 339.96L52.25 340.00M53.50 328.75L53.80 329.02M54.85 319.32L55.20 323.00M55.20 323.00L55.50 323.21M55.50 323.21L55.80 324.50M55.80 324.50L56.15 328.57M57.47 324.75L57.73 327.82M58.27 325.54L58.53 326.55M58.53 326.55L58.80 330.00M58.80 330.00L59.15 331.57M59.15 331.57L59.50 335.00M60.85 322.60L61.20 328.00M62.20 322.00L62.50 323.28M63.50 318.50L63.85 320.74M64.20 320.00L64.47 320.83M64.47 320.83L64.73 323.52M64.73 323.52L65.00 325.00M65.00 325.00L65.27 326.52M65.53 326.05L65.80 327.00M65.80 327.00L66.15 330.10M66.15 330.10L66.50 331.00M66.50 331.00L66.85 336.73M67.20 335.00L67.47 337.49M67.47 337.49L67.73 339.54M68.25 338.15L68.50 343.00M68.50 343.00L68.85 343.59M70.27 335.11L70.53 338.88M71.15 334.51L71.50 336.00M71.50 336.00L71.85 337.35M71.85 337.35L72.20 339.50M73.27 337.62L73.53 339.18M73.53 339.18L73.80 341.00M73.80 341.00L74.15 341.44M74.15 341.44L74.50 342.00M74.50 342.00L74.83 343.39M75.85 338.41L76.20 340.00M76.47 335.59L76.73 337.84M76.73 337.84L77.00 338.50M77.00 338.50L77.27 339.93M77.27 339.93L77.53 340.16M77.80 340.00L78.15 341.65M78.15 341.65L78.50 343.00M78.50 343.00L78.85 345.09M79.20 344.00L79.60 349.90M79.60 349.90L79.88 353.67M80.44 351.22L80.72 352.39M80.72 352.39L81.00 352.50M81.00 352.50L81.28 353.10M81.28 353.10L81.56 354.22M81.56 354.22L81.84 356.23M81.84 356.23L82.12 356.23M82.40 355.10L82.70 357.65M82.70 357.65L83.00 359.57M83.00 359.57L83.30 362.10M83.60 360.43L83.90 362.44M83.90 362.44L84.20 363.90M84.20 363.90L84.47 364.32M84.47 364.32L84.73 365.12M84.73 365.12L85.00 366.50M86.88 351.06L87.16 352.51M87.44 352.23L87.72 352.53M88.28 350.09L88.56 351.32M90.00 344.27L90.30 345.12M90.92 341.24L91.25 342.11M91.58 339.62L91.90 340.25M92.90 335.00L93.20 336.79M93.80 335.84L94.10 337.60M95.00 334.10L95.31 336.32M95.62 335.19L95.94 338.07M96.25 336.80L96.60 341.62M96.95 340.80L97.30 342.50M97.30 342.50L97.60 344.00M97.90 342.65L98.20 346.48M98.83 343.62L99.17 344.45M100.03 337.33L100.30 337.50M102.81 320.80L103.12 325.16M103.44 322.95L103.75 323.75M103.75 323.75L104.06 325.76M104.69 321.70L105.00 325.00M105.75 322.50L106.06 324.20M106.06 324.20L106.38 326.10M106.38 326.10L106.69 328.19M106.69 328.19L107.00 328.75M107.88 324.79L108.17 325.61M108.17 325.61L108.46 326.16M108.75 325.00L109.06 327.70M109.38 320.64L109.69 320.74M110.94 312.58L111.25 313.75M112.50 306.25L112.81 306.92M116.08 270.00L116.42 272.39M118.25 258.75L118.58 262.43M118.58 262.43L118.92 265.95M118.92 265.95L119.25 270.00M119.25 270.00L119.62 274.52M119.62 274.52L120.00 277.50M120.00 277.50L120.33 279.34M120.67 278.59L121.00 282.50M123.00 267.50L123.38 270.32M123.38 270.32L123.75 272.50M124.38 265.09L124.69 265.62M125.00 263.75L125.38 268.67M125.38 268.67L125.75 275.00M125.75 275.00L126.08 277.95M126.08 277.95L126.42 281.23M126.42 281.23L126.75 282.50M127.06 280.25L127.38 282.79M127.69 277.28L128.00 277.50M128.33 272.98L128.67 275.57M129.33 271.37L129.67 271.73M130.00 268.75L130.28 270.27M130.55 267.68L130.82 268.96M131.39 265.61L131.68 268.01M131.96 267.69L132.25 268.00M132.25 268.00L132.54 268.05M133.11 264.55L133.40 265.30M133.68 263.61L133.95 267.92M135.60 263.00L135.95 267.38M135.95 267.38L136.30 271.40M136.30 271.40L136.60 273.83M136.60 273.83L136.90 277.60M136.90 277.60L137.20 281.50M137.20 281.50L137.55 288.11M137.55 288.11L137.90 290.50M137.90 290.50L138.25 292.93M138.25 292.93L138.60 293.90M139.50 286.00L139.80 286.27M139.80 286.27L140.10 288.76M140.10 288.76L140.40 289.40M140.40 289.40L140.68 289.92M140.68 289.92L140.97 290.40M140.97 290.40L141.25 291.60M141.25 291.60L141.54 292.29M141.54 292.29L141.82 293.26M141.82 293.26L142.11 295.38M142.40 295.00L142.68 295.89M142.68 295.89L142.95 299.18M142.95 299.18L143.22 302.47M143.50 301.75L143.78 301.81M143.78 301.81L144.05 303.13M144.05 303.13L144.32 306.29M144.32 306.29L144.60 308.50M144.60 308.50L144.89 308.94M144.89 308.94L145.18 311.22M145.18 311.22L145.46 313.70M145.46 313.70L145.75 315.25M145.75 315.25L146.07 320.12M146.07 320.12L146.40 322.00M148.00 297.25L148.28 298.64M148.28 298.64L148.55 299.02M148.55 299.02L148.82 301.02M149.80 292.75L150.10 293.28M151.60 280.40L151.90 280.59M151.90 280.59L152.20 284.19M152.50 283.75L152.78 286.14M153.05 285.71L153.32 289.90M153.32 289.90L153.60 291.60M153.60 291.60L153.89 293.21M153.89 293.21L154.18 295.24M154.46 293.24L154.75 295.00M155.04 294.31L155.32 298.00M155.32 298.00L155.61 300.36M155.90 298.40L156.18 302.70M156.72 300.52L157.00 304.00M157.82 295.95L158.10 296.10M158.10 296.10L158.39 297.68M158.39 297.68L158.68 298.58M158.96 294.50L159.25 298.40M159.25 298.40L159.54 299.87M159.54 299.87L159.82 301.49M159.82 301.49L160.11 305.60M160.40 301.75L160.68 304.03M160.95 302.16L161.22 304.85M161.22 304.85L161.50 305.10M163.18 293.82L163.46 297.08M164.04 292.23L164.32 292.27M164.32 292.27L164.61 292.35M164.61 292.35L164.90 292.75M165.18 292.06L165.45 295.52M165.45 295.52L165.72 297.62M166.28 295.49L166.55 296.01M167.10 293.90L167.40 294.04M167.40 294.04L167.70 294.98M167.70 294.98L168.00 295.24M168.00 295.24L168.30 296.10M169.70 289.32L170.00 292.52M170.30 291.50L170.63 291.83M170.63 291.83L170.97 294.96M170.97 294.96L171.30 296.30M171.30 296.30L171.58 298.63M171.85 298.27L172.12 300.33M172.12 300.33L172.40 300.80M173.60 295.20L173.88 295.61M173.88 295.61L174.15 296.11M175.30 282.99L175.60 284.00M176.18 280.36L176.46 280.65M178.45 271.25L178.72 271.50M179.00 270.50L179.28 272.37M179.28 272.37L179.55 273.67M179.82 273.35L180.10 275.00M180.39 274.90L180.68 275.62M180.96 272.50L181.25 272.75M181.25 272.75L181.54 273.35M181.54 273.35L181.82 274.69M181.82 274.69L182.11 277.17M182.11 277.17L182.40 277.25M182.40 277.25L182.68 278.70M183.22 272.44L183.50 272.75M183.78 271.99L184.05 274.11M184.60 270.50L184.89 271.49M185.18 269.54L185.46 270.35M185.75 269.40L186.04 271.30M186.04 271.30L186.32 272.13M186.32 272.13L186.61 273.22M186.61 273.22L186.90 275.00M186.90 275.00L187.25 279.14M187.25 279.14L187.60 281.75M187.90 281.51L188.20 283.48M188.20 283.48L188.50 284.00M188.78 283.59L189.05 287.75M189.32 285.61L189.60 287.40M189.60 287.40L189.88 288.82M190.15 287.51L190.42 289.62M190.42 289.62L190.70 290.75M190.97 290.37L191.25 290.77M191.80 288.50L192.15 293.01M192.15 293.01L192.50 295.30M192.50 295.30L192.85 295.63M192.85 295.63L193.20 299.80M194.30 287.40L194.60 288.34M194.60 288.34L194.90 288.38M195.47 284.13L195.75 284.59M196.30 284.00L196.60 286.50M197.20 284.29L197.50 286.30M197.50 286.30L197.80 290.71M197.80 290.71L198.10 294.48M198.10 294.48L198.40 295.30M198.40 295.30L198.68 298.61M198.68 298.61L198.97 302.86M198.97 302.86L199.25 304.30M200.20 297.60L200.50 298.34M202.47 287.45L202.75 289.12M204.47 274.74L204.75 276.02M204.75 276.02L205.03 276.95M205.60 276.03L205.90 278.40M206.20 277.39L206.50 279.50M207.40 272.75L207.68 274.34M207.68 274.34L207.97 274.75M207.97 274.75L208.25 275.00M208.25 275.00L208.54 277.43M209.11 276.04L209.40 279.50M209.67 278.49L209.93 278.88M210.72 275.61L210.99 278.77M211.25 278.75L211.56 279.87M211.88 278.09L212.19 279.81M212.19 279.81L212.50 280.00M212.50 280.00L212.81 281.51M212.81 281.51L213.12 283.65M213.44 283.47L213.75 286.25M213.75 286.25L214.12 289.54M217.38 272.85L217.69 274.61M218.31 268.57L218.62 268.79M219.25 267.50L219.56 269.65M219.88 266.82L220.19 268.68M220.19 268.68L220.50 270.00M222.17 262.43L222.50 262.50M223.44 252.36L223.75 255.00M223.75 255.00L224.12 258.38M224.12 258.38L224.50 258.75M224.50 258.75L224.83 262.17M225.17 260.55L225.50 265.00M225.81 262.65L226.12 268.46M226.12 268.46L226.44 268.59M226.44 268.59L226.75 268.75M227.06 268.06L227.38 269.40M227.38 269.40L227.69 269.94M227.69 269.94L228.00 271.25M228.00 271.25L228.33 271.54M229.00 267.50L229.33 267.78M229.33 267.78L229.67 270.43M229.67 270.43L230.00 271.25M231.00 265.00L231.33 267.68M231.67 262.69L232.00 263.75M232.00 263.75L232.33 264.17M232.67 262.34L233.00 262.50M236.00 246.25L236.33 249.23M236.33 249.23L236.67 251.23M236.67 251.23L237.00 251.25M237.00 251.25L237.33 252.06M237.33 252.06L237.67 256.79M238.00 253.75L238.33 255.36M238.33 255.36L238.67 256.21M238.67 256.21L239.00 257.50M239.00 257.50L239.25 261.24M239.25 261.24L239.50 261.25M241.44 250.16L241.75 252.50M243.33 241.33L243.67 243.51M244.33 237.00L244.67 239.53M244.67 239.53L245.00 241.25M246.00 227.50L246.33 232.45M246.67 228.34L247.00 231.25M247.33 231.12L247.67 233.20M247.67 233.20L248.00 236.25M248.33 234.93L248.67 235.47M250.67 224.71L251.00 225.00M251.00 225.00L251.33 225.34M251.67 221.05L252.00 221.25M252.33 219.11L252.67 219.89M255.50 200.00L255.88 203.89M255.88 203.89L256.25 207.50M257.00 198.75L257.33 199.30M257.33 199.30L257.67 203.15M257.67 203.15L258.00 207.50M258.00 207.50L258.33 211.58M258.67 211.51L259.00 216.25M259.00 216.25L259.33 217.90M259.33 217.90L259.67 219.53M259.67 219.53L260.00 220.00M260.67 214.50L261.00 216.25M261.00 216.25L261.33 217.84M261.67 217.59L262.00 218.75M262.00 218.75L262.33 221.10M262.33 221.10L262.67 225.96M262.67 225.96L263.00 226.25M263.00 226.25L263.33 228.86M263.33 228.86L263.67 230.59M263.67 230.59L264.00 232.50M264.00 232.50L264.33 235.58M264.33 235.58L264.67 236.28M264.67 236.28L265.00 240.00M265.00 240.00L265.33 241.95M265.33 241.95L265.67 243.77M265.67 243.77L266.00 250.00M266.00 250.00L266.33 251.06M266.33 251.06L266.67 255.74M267.00 255.00L267.33 255.63M268.00 250.00L268.33 253.88M268.67 253.27L269.00 257.50M269.00 257.50L269.33 257.62M270.00 252.50L270.33 253.35M270.33 253.35L270.67 255.92M270.67 255.92L271.00 260.00M272.00 255.00L272.33 256.66M272.67 256.14L273.00 260.00M273.00 260.00L273.33 260.08M273.33 260.08L273.67 265.08M273.67 265.08L274.00 266.25M274.00 266.25L274.33 268.36M274.33 268.36L274.67 269.57M275.33 267.76L275.67 270.36M275.67 270.36L276.00 272.50M276.00 272.50L276.38 274.33M276.38 274.33L276.75 277.50M278.50 266.25L278.83 269.20M279.17 268.26L279.50 268.75M280.17 262.31L280.50 262.50M280.50 262.50L280.83 262.53M282.83 254.01L283.17 254.66M287.17 219.05L287.50 220.00M287.83 219.72L288.17 220.17M288.17 220.17L288.50 222.50M288.50 222.50L288.80 225.44M289.10 222.50L289.40 225.00M289.40 225.00L289.70 232.34M290.00 230.10L290.30 234.17M290.30 234.17L290.60 237.50M292.50 215.61L292.80 216.51M294.07 211.91L294.40 212.50M295.00 211.03L295.30 214.61M296.90 203.75L297.20 203.98M298.10 200.00L298.43 203.39M298.43 203.39L298.75 205.67M299.07 204.78L299.40 206.00M299.40 206.00L299.70 210.10M299.70 210.10L300.00 214.10M300.00 214.10L300.30 214.74M300.30 214.74L300.60 218.75M300.60 218.75L300.93 221.28M300.93 221.28L301.25 223.80M301.25 223.80L301.57 226.46M301.57 226.46L301.90 230.00M301.90 230.00L302.17 234.01M302.45 231.91L302.73 232.82M302.73 232.82L303.00 233.75M303.00 233.75L303.33 233.98M303.33 233.98L303.67 236.55M303.67 236.55L304.00 237.50M304.00 237.50L304.33 239.62M304.33 239.62L304.67 241.92M304.67 241.92L305.00 243.00M305.75 236.25L306.12 241.59M306.12 241.59L306.50 245.00M307.17 242.83L307.50 244.00M309.50 231.25L309.83 232.72M309.83 232.72L310.17 238.10M310.17 238.10L310.50 242.50M311.50 231.25L311.83 231.73M314.50 216.25L314.83 218.34M314.83 218.34L315.17 219.79M315.17 219.79L315.50 221.25M315.50 221.25L315.83 224.13M315.83 224.13L316.17 225.43M316.17 225.43L316.50 227.50M316.50 227.50L316.83 228.03M316.83 228.03L317.17 232.02M318.50 223.75L318.83 226.20M318.83 226.20L319.17 228.23M319.17 228.23L319.50 230.00M319.50 230.00L319.83 231.89M319.83 231.89L320.17 238.24M320.17 238.24L320.50 240.00M320.83 238.66L321.17 241.80M321.17 241.80L321.50 245.00M321.50 245.00L321.83 245.17M322.50 237.50L322.83 238.49M324.83 227.29L325.17 227.75M325.83 225.45L326.17 226.29M326.83 219.32L327.17 221.00M327.50 220.00L327.83 220.24M328.17 219.37L328.50 223.75M330.75 213.94L331.00 215.00M332.67 203.20L333.00 203.75M335.00 193.75L335.33 194.83M335.33 194.83L335.67 195.56M335.67 195.56L336.00 198.75M336.00 198.75L336.33 201.76M336.33 201.76L336.67 202.02M336.67 202.02L337.00 202.50M337.67 197.60L338.00 198.75M338.00 198.75L338.33 200.11M338.33 200.11L338.67 203.31M338.67 203.31L339.00 205.00M339.33 201.70L339.67 203.71M340.33 200.70L340.67 203.11M340.67 203.11L341.00 203.75M342.33 197.06L342.67 197.17M343.00 195.00L343.33 196.31M343.33 196.31L343.67 196.58M343.67 196.58L344.00 197.50M348.50 163.75L348.88 163.79M348.88 163.79L349.25 172.50M349.25 172.50L349.62 173.58M349.62 173.58L350.00 176.25M350.00 176.25L350.33 180.05M350.67 178.45L351.00 180.00M351.67 174.61L352.00 175.00M352.00 175.00L352.33 178.79M352.33 178.79L352.67 181.80M352.67 181.80L353.00 182.50M353.00 182.50L353.33 184.69M353.33 184.69L353.67 187.98M354.33 185.70L354.67 188.55M355.00 187.00L355.33 191.07M355.67 190.89L356.00 195.50M356.00 195.50L356.33 195.74M356.33 195.74L356.67 196.21M356.67 196.21L357.00 200.00M357.00 200.00L357.33 202.17M357.67 200.97L358.00 202.00M358.33 201.42L358.67 203.12M358.67 203.12L359.00 204.50M359.00 204.50L359.33 207.31M359.67 202.00L360.00 208.00M360.00 208.00L360.33 209.96M360.33 209.96L360.67 211.04M360.67 211.04L361.00 213.00M361.00 213.00L361.33 214.92M361.33 214.92L361.67 215.59M361.67 215.59L362.00 218.75M362.33 217.29L362.67 217.97M362.67 217.97L363.00 218.00M363.00 218.00L363.33 220.19M363.67 217.84L364.00 220.00M364.00 220.00L364.33 220.78M364.67 217.07L365.00 221.25M365.00 221.25L365.33 221.45M365.33 221.45L365.67 224.13M366.67 220.39L367.00 223.75M367.00 223.75L367.33 224.64M367.67 223.69L368.00 224.50M368.33 223.83L368.67 223.91M369.00 222.50L369.33 223.81M369.33 223.81L369.67 225.30M369.67 225.30L370.00 228.00M370.33 227.71L370.67 229.05M371.00 226.90L371.33 228.73M371.33 228.73L371.67 228.93M371.67 228.93L372.00 230.00M372.00 230.00L372.25 233.79M372.25 233.79L372.50 235.00M374.00 222.50L374.33 223.09M376.00 213.75L376.33 213.79M377.25 207.17L377.50 207.50M377.50 207.50L377.88 211.78M377.88 211.78L378.25 220.00M378.25 220.00L378.62 220.70M378.62 220.70L379.00 222.50M381.00 211.25L381.33 212.42M381.33 212.42L381.67 212.85M382.00 210.00L382.33 210.14M383.00 206.25L383.33 207.90M383.67 206.94L384.00 207.50M384.33 205.53L384.67 206.58M385.00 202.50L385.33 205.25M385.33 205.25L385.67 207.65M385.67 207.65L386.00 210.00M389.00 187.50L389.33 188.95M389.33 188.95L389.67 190.81M390.00 190.00L390.33 190.92M390.33 190.92L390.67 193.26M390.67 193.26L391.00 195.00M392.33 187.07L392.67 187.42M392.67 187.42L393.00 187.50M393.00 187.50L393.33 187.50M394.00 183.75L394.33 183.87M394.33 183.87L394.67 188.58M394.67 188.58L395.00 191.00M395.00 191.00L395.33 195.11M395.33 195.11L395.67 200.28M395.67 200.28L396.00 202.50M396.00 202.50L396.33 204.48M396.33 204.48L396.67 204.90M396.67 204.90L397.00 206.90M399.00 196.90L399.33 199.23M399.67 197.17L400.00 200.00M401.00 192.50L401.33 193.00M403.00 183.75L403.33 186.01M403.33 186.01L403.67 187.03M406.00 172.50L406.33 177.59M406.33 177.59L406.67 182.70M406.67 182.70L407.00 187.50M407.33 187.14L407.67 193.60M407.67 193.60L408.00 195.00M408.00 195.00L408.33 197.13M408.33 197.13L408.67 197.22M408.67 197.22L409.00 197.50M409.00 197.50L409.33 197.56M410.33 191.37L410.67 197.31M411.00 196.25L411.33 198.89M411.33 198.89L411.67 199.61M411.67 199.61L412.00 202.50M412.00 202.50L412.38 202.85M412.38 202.85L412.75 210.00M413.83 198.36L414.17 201.67M414.17 201.67L414.50 202.50M416.50 191.25L416.83 192.42M417.17 192.00L417.50 193.75M417.83 189.27L418.17 191.20M420.83 170.12L421.17 170.77M422.50 162.50L422.83 165.89M422.83 165.89L423.17 173.63M423.17 173.63L423.50 176.25M424.50 168.75L424.83 171.66M424.83 171.66L425.17 172.38M425.17 172.38L425.50 175.00M426.50 168.75L426.83 170.13M426.83 170.13L427.17 173.65M427.17 173.65L427.50 173.75M429.50 156.25L429.83 157.72M429.83 157.72L430.17 163.81M430.17 163.81L430.50 165.00M430.50 165.00L430.83 166.66M430.83 166.66L431.17 171.44M431.17 171.44L431.50 173.75M435.25 135.00L435.62 142.44M435.62 142.44L436.00 146.00M436.00 146.00L436.33 151.27M436.33 151.27L436.67 152.13M436.67 152.13L437.00 155.50M437.00 155.50L437.33 159.80M437.33 159.80L437.67 168.26M437.67 168.26L438.00 174.00M438.00 174.00L438.25 175.23M438.25 175.23L438.50 182.50M438.50 182.50L438.75 186.14M438.75 186.14L439.00 187.50M441.00 170.00L441.33 175.21M441.33 175.21L441.67 176.34M441.67 176.34L442.00 182.50M444.00 170.00L444.33 174.10M444.67 171.72L445.00 177.50M447.00 162.50L447.33 166.58M447.67 165.18L448.00 166.25M449.00 156.25L449.33 157.00M449.33 157.00L449.67 159.28M449.67 159.28L450.00 160.00M450.00 160.00L450.33 164.25M450.33 164.25L450.67 167.12M450.67 167.12L451.00 173.75M451.00 173.75L451.33 176.91M451.33 176.91L451.67 178.98M451.67 178.98L452.00 182.50M452.00 182.50L452.33 183.68M452.33 183.68L452.67 187.00M452.67 187.00L453.00 187.50M453.38 186.43L453.75 192.50M457.83 163.83L458.17 165.11M458.83 161.32L459.17 161.63M459.83 156.82L460.17 157.65M460.50 157.50L460.83 160.17M460.83 160.17L461.17 160.63M461.17 160.63L461.50 163.75M461.83 162.87L462.17 163.58M462.83 160.48L463.17 162.20M463.17 162.20L463.50 162.50M465.17 153.75L465.50 153.75M465.83 153.69L466.17 158.11M466.17 158.11L466.50 160.00M466.50 160.00L466.83 163.47M467.17 161.59L467.50 167.50M470.83 146.08L471.17 147.44M472.17 142.05L472.50 142.50M472.50 142.50L472.83 147.28M472.83 147.28L473.17 147.79M473.50 147.50L473.83 152.17M473.83 152.17L474.17 154.95M474.17 154.95L474.50 155.00M476.30 146.25L476.60 147.99M476.60 147.99L476.90 149.53M477.47 147.89L477.73 151.73M477.73 151.73L478.00 153.75M478.00 153.75L478.33 156.86M478.67 156.13L479.00 160.00M479.00 160.00L479.33 163.59M479.67 160.37L480.00 163.75M480.33 158.53L480.67 159.68M481.33 158.54L481.67 159.16M482.67 154.34L483.00 155.00M483.00 155.00L483.33 156.34M483.33 156.34L483.67 157.29M483.67 157.29L484.00 158.75M484.00 158.75L484.33 160.09M484.33 160.09L484.67 160.82M484.67 160.82L485.00 162.50M485.00 162.50L485.33 167.36M486.00 166.25L486.33 170.24M486.33 170.24L486.67 171.81M486.67 171.81L487.00 172.50M487.00 172.50L487.33 175.01M487.33 175.01L487.67 176.27M488.33 175.59L488.67 178.73M488.67 178.73L489.00 180.00M489.00 180.00L489.33 181.04M489.67 179.88L490.00 182.50M490.75 177.50L491.12 178.35M491.12 178.35L491.50 182.50M492.17 175.26L492.50 176.25M494.83 165.70L495.17 168.51M495.17 168.51L495.50 168.75M496.50 163.75L496.83 164.06M497.17 162.49L497.50 167.50M499.17 156.17L499.50 156.25M499.50 156.25L499.83 160.45M500.17 156.84L500.50 160.00M500.50 160.00L500.83 162.52M500.83 162.52L501.17 165.49M501.17 165.49L501.50 166.25M501.50 166.25L501.83 166.59M501.83 166.59L502.17 170.51M502.17 170.51L502.50 171.25M502.83 165.51L503.17 166.08M503.83 161.21L504.17 161.78M504.50 160.00L504.83 160.14M504.83 160.14L505.17 162.84M505.17 162.84L505.50 165.00M505.83 163.75L506.17 165.04M506.17 165.04L506.50 168.75M507.17 166.10L507.50 166.25M507.50 166.25L507.83 168.25M507.83 168.25L508.17 171.02M508.17 171.02L508.50 172.50M508.50 172.50L508.83 172.82M508.83 172.82L509.17 174.70M509.17 174.70L509.50 176.25M509.83 176.14L510.17 180.39M510.17 180.39L510.50 181.25M512.83 166.99L513.17 169.06M514.83 159.36L515.17 163.74M515.17 163.74L515.50 163.75M516.17 154.72L516.50 155.00M517.83 146.29L518.17 147.53M518.50 146.25L518.83 146.88M520.50 139.70L520.77 141.71M521.60 135.50L521.88 135.71M521.88 135.71L522.15 138.08M522.15 138.08L522.43 138.58M522.43 138.58L522.70 139.70M522.70 139.70L522.98 140.66M523.25 138.94L523.52 139.25M523.80 137.00L524.07 137.22M524.07 137.22L524.35 139.27M524.35 139.27L524.62 139.36M524.62 139.36L524.90 142.40M524.90 142.40L525.17 145.86M525.45 145.49L525.73 149.87M525.73 149.87L526.00 150.70M526.27 149.45L526.55 151.76M527.38 147.74L527.65 153.19M527.65 153.19L527.93 154.95M527.93 154.95L528.20 156.20M528.75 155.01L529.02 156.96M531.00 142.50L531.33 143.00M532.00 138.75L532.33 140.13M532.33 140.13L532.67 142.44M533.00 141.25L533.38 141.86M533.38 141.86L533.75 145.00M533.75 145.00L534.12 152.23M534.12 152.23L534.50 157.50M537.50 67.50L537.88 78.04M537.88 78.04L538.25 80.00M538.25 80.00L538.62 85.03M538.62 85.03L539.00 90.00M539.00 90.00L539.25 90.20M539.50 88.75L539.75 94.96M539.75 94.96L540.00 105.00M540.00 105.00L540.25 111.52M540.25 111.52L540.50 118.75M542.00 105.00L542.25 108.01M542.25 108.01L542.50 112.50M542.50 112.50L542.88 117.58M542.88 117.58L543.25 121.25M543.25 121.25L543.62 122.43M543.62 122.43L544.00 125.00M544.00 125.00L544.38 127.22M544.38 127.22L544.75 132.50M544.75 132.50L545.12 138.11M545.12 138.11L545.50 140.00M545.50 140.00L545.88 146.04M545.88 146.04L546.25 153.75M547.75 135.00L548.12 140.49M548.12 140.49L548.50 145.00M548.50 145.00L548.88 148.38M548.88 148.38L549.25 150.00M551.67 129.41L552.00 132.50M552.00 132.50L552.33 137.80M552.33 137.80L552.67 139.42M552.67 139.42L553.00 142.50M554.00 127.50L554.33 127.86M554.33 127.86L554.67 131.00M554.67 131.00L555.00 132.50M555.00 132.50L555.33 135.55M555.33 135.55L555.67 137.71M555.67 137.71L556.00 142.50M556.00 142.50L556.33 144.56M556.33 144.56L556.67 149.15M556.67 149.15L557.00 152.50M558.00 140.00L558.33 141.52M558.33 141.52L558.67 141.96M558.67 141.96L559.00 142.50M559.67 138.83L560.00 140.00M560.00 140.00L560.33 141.37M560.33 141.37L560.67 146.18M560.67 146.18L561.00 148.75M564.33 120.36L564.67 120.55M566.67 107.27L567.00 107.50M569.15 94.10L569.50 100.25M570.55 93.25L570.83 94.47M570.83 94.47L571.10 99.40M571.10 99.40L571.45 101.64M571.45 101.64L571.80 102.00M571.80 102.00L572.15 102.56M572.15 102.56L572.50 105.50M572.50 105.50L572.75 111.98M572.75 111.98L573.00 113.40M573.00 113.40L573.35 116.76M573.35 116.76L573.70 117.75M573.70 117.75L573.95 119.45M573.95 119.45L574.20 126.50M574.20 126.50L574.48 131.23M574.48 131.23L574.75 133.50M574.75 133.50L575.02 135.41M575.02 135.41L575.30 136.20M575.80 132.65L576.15 137.81M576.15 137.81L576.50 144.00M577.90 135.30L578.25 135.63M578.25 135.63L578.60 142.30M579.30 128.30L579.65 133.73M579.65 133.73L580.00 137.00M582.10 123.00L582.45 124.81M583.85 118.71L584.20 120.40M584.20 120.40L584.55 121.39M584.55 121.39L584.90 124.80M588.75 61.50L589.08 67.65M589.08 67.65L589.40 71.50M589.40 71.50L589.75 77.79M589.75 77.79L590.10 85.00M592.60 59.00L592.85 63.43M592.85 63.43L593.10 68.20M593.80 63.20L594.10 66.61M594.10 66.61L594.40 69.90M594.75 67.43L595.10 68.20M595.10 68.20L595.45 71.26M595.45 71.26L595.80 71.50M596.15 70.13L596.50 72.40M596.50 72.40L596.80 73.13M596.80 73.13L597.10 78.30M597.10 78.30L597.35 82.29M597.35 82.29L597.60 85.80M601.60 36.40L601.90 38.86M601.90 38.86L602.20 41.40M602.20 41.40L602.45 45.31M602.45 45.31L602.70 48.10M603.20 38.10L603.50 39.88M603.50 39.88L603.80 41.40M603.80 41.40L604.15 43.68M604.15 43.68L604.50 46.40M604.75 42.96L605.00 43.10M605.00 43.10L605.25 47.40M605.25 47.40L605.50 51.50M606.20 41.40L606.45 47.00M606.45 47.00L606.70 49.80M606.70 49.80L606.95 56.30M606.95 56.30L607.20 58.20" stroke="#ff0000"/>
</g>
<rect x="574" y="30" width="38" height="121" fill="#00dc00" opacity="0.37"/>
<rect x="16.5" y="29.5" width="596" height="354" fill="none" stroke="#6a6e78" stroke-width="1"/>
<rect x="17" y="30" width="557" height="12" fill="#f8f8fb"/>
<rect x="19" y="35" width="9" height="2" fill="#000"/>
<text x="31.6" y="39.6" style="font-family:'DejaVu Sans',sans-serif" font-size="9.4" fill="#000" textLength="125.5" lengthAdjust="spacingAndGlyphs">$USB (Weekly) 148.72</text>
<text x="633.3" y="377.2" font-size="10.1" fill="#000" text-anchor="end" textLength="11.2" lengthAdjust="spacingAndGlyphs">45</text>
<text x="633.3" y="361.2" font-size="10.1" fill="#000" text-anchor="end" textLength="11.2" lengthAdjust="spacingAndGlyphs">50</text>
<text x="633.3" y="346.2" font-size="10.1" fill="#000" text-anchor="end" textLength="11.2" lengthAdjust="spacingAndGlyphs">55</text>
<text x="633.3" y="330.2" font-size="10.1" fill="#000" text-anchor="end" textLength="11.2" lengthAdjust="spacingAndGlyphs">60</text>
<text x="633.3" y="314.2" font-size="10.1" fill="#000" text-anchor="end" textLength="11.2" lengthAdjust="spacingAndGlyphs">65</text>
<text x="633.3" y="299.2" font-size="10.1" fill="#000" text-anchor="end" textLength="11.2" lengthAdjust="spacingAndGlyphs">70</text>
<text x="633.3" y="283.2" font-size="10.1" fill="#000" text-anchor="end" textLength="11.2" lengthAdjust="spacingAndGlyphs">75</text>
<text x="633.3" y="267.2" font-size="10.1" fill="#000" text-anchor="end" textLength="11.2" lengthAdjust="spacingAndGlyphs">80</text>
<text x="633.3" y="251.2" font-size="10.1" fill="#000" text-anchor="end" textLength="11.2" lengthAdjust="spacingAndGlyphs">85</text>
<text x="633.3" y="236.2" font-size="10.1" fill="#000" text-anchor="end" textLength="11.2" lengthAdjust="spacingAndGlyphs">90</text>
<text x="633.3" y="220.2" font-size="10.1" fill="#000" text-anchor="end" textLength="11.2" lengthAdjust="spacingAndGlyphs">95</text>
<text x="633.3" y="204.2" font-size="10.1" fill="#000" text-anchor="end" textLength="16.6" lengthAdjust="spacingAndGlyphs">100</text>
<text x="633.3" y="189.2" font-size="10.1" fill="#000" text-anchor="end" textLength="16.6" lengthAdjust="spacingAndGlyphs">105</text>
<text x="633.3" y="173.2" font-size="10.1" fill="#000" text-anchor="end" textLength="16.6" lengthAdjust="spacingAndGlyphs">110</text>
<text x="633.3" y="157.2" font-size="10.1" fill="#000" text-anchor="end" textLength="16.6" lengthAdjust="spacingAndGlyphs">115</text>
<text x="633.3" y="142.2" font-size="10.1" fill="#000" text-anchor="end" textLength="16.6" lengthAdjust="spacingAndGlyphs">120</text>
<text x="633.3" y="126.2" font-size="10.1" fill="#000" text-anchor="end" textLength="16.6" lengthAdjust="spacingAndGlyphs">125</text>
<text x="633.3" y="110.2" font-size="10.1" fill="#000" text-anchor="end" textLength="16.6" lengthAdjust="spacingAndGlyphs">130</text>
<text x="633.3" y="94.2" font-size="10.1" fill="#000" text-anchor="end" textLength="16.6" lengthAdjust="spacingAndGlyphs">135</text>
<text x="633.3" y="79.2" font-size="10.1" fill="#000" text-anchor="end" textLength="16.6" lengthAdjust="spacingAndGlyphs">140</text>
<text x="633.3" y="63.2" font-size="10.1" fill="#000" text-anchor="end" textLength="16.6" lengthAdjust="spacingAndGlyphs">145</text>
<text x="633.3" y="48.4" font-size="10.1" fill="#000" text-anchor="end" textLength="16.6" lengthAdjust="spacingAndGlyphs">150</text>
<text x="20.3" y="394.8" font-size="9.8" fill="#000" text-anchor="middle" textLength="11.2" lengthAdjust="spacingAndGlyphs">81</text>
<text x="38.3" y="394.8" font-size="9.8" fill="#000" text-anchor="middle" textLength="11.2" lengthAdjust="spacingAndGlyphs">82</text>
<text x="56.3" y="394.8" font-size="9.8" fill="#000" text-anchor="middle" textLength="11.2" lengthAdjust="spacingAndGlyphs">83</text>
<text x="75.3" y="394.8" font-size="9.8" fill="#000" text-anchor="middle" textLength="11.2" lengthAdjust="spacingAndGlyphs">84</text>
<text x="94.3" y="394.8" font-size="9.8" fill="#000" text-anchor="middle" textLength="11.2" lengthAdjust="spacingAndGlyphs">85</text>
<text x="112.3" y="394.8" font-size="9.8" fill="#000" text-anchor="middle" textLength="11.2" lengthAdjust="spacingAndGlyphs">86</text>
<text x="130.3" y="394.8" font-size="9.8" fill="#000" text-anchor="middle" textLength="11.2" lengthAdjust="spacingAndGlyphs">87</text>
<text x="149.3" y="394.8" font-size="9.8" fill="#000" text-anchor="middle" textLength="11.2" lengthAdjust="spacingAndGlyphs">88</text>
<text x="167.3" y="394.8" font-size="9.8" fill="#000" text-anchor="middle" textLength="11.2" lengthAdjust="spacingAndGlyphs">89</text>
<text x="186.3" y="394.8" font-size="9.8" fill="#000" text-anchor="middle" textLength="11.2" lengthAdjust="spacingAndGlyphs">90</text>
<text x="205.3" y="394.8" font-size="9.8" fill="#000" text-anchor="middle" textLength="11.2" lengthAdjust="spacingAndGlyphs">91</text>
<text x="223.3" y="394.8" font-size="9.8" fill="#000" text-anchor="middle" textLength="11.2" lengthAdjust="spacingAndGlyphs">92</text>
<text x="241.3" y="394.8" font-size="9.8" fill="#000" text-anchor="middle" textLength="11.2" lengthAdjust="spacingAndGlyphs">93</text>
<text x="260.3" y="394.8" font-size="9.8" fill="#000" text-anchor="middle" textLength="11.2" lengthAdjust="spacingAndGlyphs">94</text>
<text x="278.3" y="394.8" font-size="9.8" fill="#000" text-anchor="middle" textLength="11.2" lengthAdjust="spacingAndGlyphs">95</text>
<text x="297.3" y="394.8" font-size="9.8" fill="#000" text-anchor="middle" textLength="11.2" lengthAdjust="spacingAndGlyphs">96</text>
<text x="315.3" y="394.8" font-size="9.8" fill="#000" text-anchor="middle" textLength="11.2" lengthAdjust="spacingAndGlyphs">97</text>
<text x="334.3" y="394.8" font-size="9.8" fill="#000" text-anchor="middle" textLength="11.2" lengthAdjust="spacingAndGlyphs">98</text>
<text x="352.3" y="394.8" font-size="9.8" fill="#000" text-anchor="middle" textLength="11.2" lengthAdjust="spacingAndGlyphs">99</text>
<text x="371.3" y="394.8" font-size="9.8" fill="#000" text-anchor="middle" textLength="11.2" lengthAdjust="spacingAndGlyphs">00</text>
<text x="389.3" y="394.8" font-size="9.8" fill="#000" text-anchor="middle" textLength="11.2" lengthAdjust="spacingAndGlyphs">01</text>
<text x="408.3" y="394.8" font-size="9.8" fill="#000" text-anchor="middle" textLength="11.2" lengthAdjust="spacingAndGlyphs">02</text>
<text x="426.3" y="394.8" font-size="9.8" fill="#000" text-anchor="middle" textLength="11.2" lengthAdjust="spacingAndGlyphs">03</text>
<text x="445.3" y="394.8" font-size="9.8" fill="#000" text-anchor="middle" textLength="11.2" lengthAdjust="spacingAndGlyphs">04</text>
<text x="463.3" y="394.8" font-size="9.8" fill="#000" text-anchor="middle" textLength="11.2" lengthAdjust="spacingAndGlyphs">05</text>
<text x="482.3" y="394.8" font-size="9.8" fill="#000" text-anchor="middle" textLength="11.2" lengthAdjust="spacingAndGlyphs">06</text>
<text x="500.3" y="394.8" font-size="9.8" fill="#000" text-anchor="middle" textLength="11.2" lengthAdjust="spacingAndGlyphs">07</text>
<text x="519.3" y="394.8" font-size="9.8" fill="#000" text-anchor="middle" textLength="11.2" lengthAdjust="spacingAndGlyphs">08</text>
<text x="537.3" y="394.8" font-size="9.8" fill="#000" text-anchor="middle" textLength="11.2" lengthAdjust="spacingAndGlyphs">09</text>
<text x="556.3" y="394.8" font-size="9.8" fill="#000" text-anchor="middle" textLength="11.2" lengthAdjust="spacingAndGlyphs">10</text>
<text x="574.3" y="394.8" font-size="9.8" fill="#000" text-anchor="middle" textLength="11.2" lengthAdjust="spacingAndGlyphs">11</text>
<text x="592.3" y="394.8" font-size="9.8" fill="#000" text-anchor="middle" textLength="11.2" lengthAdjust="spacingAndGlyphs">12</text>
<path d="M612 373.5H615M612 357.5H615M612 342.5H615M612 326.5H615M612 310.5H615M612 295.5H615M612 279.5H615M612 263.5H615M612 247.5H615M612 232.5H615M612 216.5H615M612 200.5H615M612 185.5H615M612 169.5H615M612 153.5H615M612 138.5H615M612 122.5H615M612 106.5H615M612 90.5H615M612 75.5H615M612 59.5H615M612 43.5H615M21.5 383V386M39.5 383V386M57.5 383V386M76.5 383V386M95.5 383V386M113.5 383V386M131.5 383V386M150.5 383V386M168.5 383V386M187.5 383V386M206.5 383V386M224.5 383V386M242.5 383V386M261.5 383V386M279.5 383V386M298.5 383V386M316.5 383V386M335.5 383V386M353.5 383V386M372.5 383V386M390.5 383V386M409.5 383V386M427.5 383V386M446.5 383V386M464.5 383V386M483.5 383V386M501.5 383V386M520.5 383V386M538.5 383V386M557.5 383V386M575.5 383V386M593.5 383V386" stroke="#6a6e78" stroke-width="1"/>
<path d="M611.5 48 L615 42.5 H650 V53.5 H615 Z" fill="#fff" stroke="#000" stroke-width="1"/>
<text x="614.6" y="52" font-size="10.6" font-weight="bold" fill="#000" stroke="#000" stroke-width="0.45" textLength="32.6" lengthAdjust="spacingAndGlyphs">148.72</text>
<ellipse cx="35.5" cy="372.5" rx="10.9" ry="9.1" fill="none" stroke="#0000ff" stroke-width="2.2"/>
<ellipse cx="198.5" cy="304.8" rx="10.8" ry="6.2" fill="none" stroke="#0000ff" stroke-width="2.2"/>
<ellipse cx="373" cy="235" rx="10.3" ry="6.4" fill="none" stroke="#0000ff" stroke-width="2.2"/>
<ellipse cx="510" cy="181.1" rx="11.4" ry="7.5" fill="none" stroke="#0000ff" stroke-width="2.2"/>
<path d="M73.5 56.5 H510.5 L589 50.5 L514.5 62 V83.5 H73.5 Z" transform="translate(2.5,2.5)" fill="#888" opacity="0.6" filter="url(#sh2)"/>
<path d="M73.5 56.5 H510.5 L589 50.5 L514.5 62 V83.5 H73.5 Z" fill="#fff" stroke="#777" stroke-width="1"/>
<text x="76.2" y="76" font-size="16" font-weight="bold" fill="#0000ff" textLength="418.5" lengthAdjust="spacingAndGlyphs">Has the Bond Market Already Anticipated a Recession?</text>
<path d="M209.5 333 L200 305 L215.5 328.5 H389.5 L372.1 244 L393 322 L510.4 183.5 L395.5 328.5 H575.5 V355.5 H212 L56.5 374.5 L209.5 349.5 Z" transform="translate(2.5,2.5)" fill="#888" opacity="0.6" filter="url(#sh2)"/>
<path d="M209.5 333 L200 305 L215.5 328.5 H389.5 L372.1 244 L393 322 L510.4 183.5 L395.5 328.5 H575.5 V355.5 H212 L56.5 374.5 L209.5 349.5 Z" fill="#fff" stroke="#777" stroke-width="1"/>
<text x="211.6" y="347.8" font-size="16.4" font-weight="bold" fill="#0000ff" textLength="293.5" lengthAdjust="spacingAndGlyphs">The Bond Market Prior to Recessions</text>
<text x="16.2" y="15" font-size="13.6" fill="#000" font-weight="bold" textLength="33.2" lengthAdjust="spacingAndGlyphs">$USB</text>
<text x="53" y="14.2" font-size="11" fill="#000" textLength="199.5" lengthAdjust="spacingAndGlyphs">(30-Year US Treasury Bond Price (EOD))</text>
<text x="257.3" y="14" font-size="9.3" fill="#000" textLength="23.2" lengthAdjust="spacingAndGlyphs">INDX</text>
<text x="16.2" y="27" font-size="10.3" fill="#000" textLength="58.3" lengthAdjust="spacingAndGlyphs">10-Oct-2012</text>
<text x="227.7" y="26.6" font-size="11" fill="#000" font-weight="bold" textLength="28.3" lengthAdjust="spacingAndGlyphs">Open</text>
<text x="260.8" y="26.6" font-size="10.3" fill="#000" textLength="31" lengthAdjust="spacingAndGlyphs">147.31</text>
<text x="298.5" y="26.6" font-size="11" fill="#000" font-weight="bold">High</text>
<text x="325" y="26.6" font-size="10.3" fill="#000">148.72</text>
<text x="365" y="26.6" font-size="11" fill="#000" font-weight="bold">Low</text>
<text x="392.5" y="26.6" font-size="10.3" fill="#000">147.04</text>
<text x="430.8" y="26.6" font-size="11" fill="#000" font-weight="bold">Close</text>
<text x="466" y="26.6" font-size="10.3" fill="#000">148.72</text>
<text x="504.6" y="26.6" font-size="11" fill="#000" font-weight="bold">Chg</text>
<text x="529.8" y="26.6" font-size="10.3" fill="#000">+2.15</text>
<text x="559" y="26.6" font-size="10.3" fill="#000" textLength="43" lengthAdjust="spacingAndGlyphs">(+1.47%)</text>
<path d="M604.5 25.5 L608.5 21 L612.5 25.5 Z" fill="#7d8799"/>
<text x="522.4" y="14.2" font-size="10.5" fill="#3c4250" textLength="7.4" lengthAdjust="spacingAndGlyphs" style="font-family:'DejaVu Sans',sans-serif">©</text>
<text x="532.6" y="14.2" font-size="11" fill="#3c4250" textLength="79.2" lengthAdjust="spacingAndGlyphs" style="font-family:'DejaVu Sans',sans-serif">StockCharts.com</text>
</svg></body></html>
